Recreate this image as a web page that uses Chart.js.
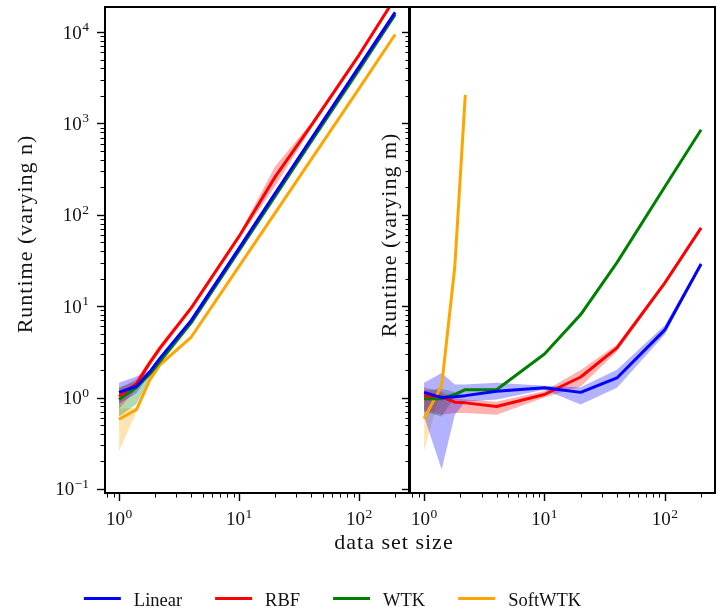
<!DOCTYPE html>
<html><head><meta charset="utf-8">
<script src="https://cdn.jsdelivr.net/npm/chart.js@4.4.1/dist/chart.umd.min.js"></script>
<style>
html,body{margin:0;padding:0;background:#fff;}
#wrap{position:relative;width:727px;height:614px;overflow:hidden;background:#fff;}
canvas{position:absolute;top:0;}
#cn{left:0;} #cm{left:360px;}
</style></head><body>
<div id="wrap"><canvas id="cn" width="727" height="614"></canvas><canvas id="cm" width="367" height="614"></canvas></div>
<script>
// ---------- data ----------
const seriesNames = ['Linear', 'RBF', 'WTK', 'SoftWTK'];
const seriesColors = ['#0000ff', '#ff0000', '#008000', '#ffa500'];
const bandColors = ['rgba(0,0,255,0.3)', 'rgba(255,0,0,0.3)', 'rgba(0,128,0,0.3)', 'rgba(255,165,0,0.3)'];

const sizes = [1, 1.4, 1.8, 2.2, 4, 10, 20, 40, 100, 200];
const sizesSoftM = [1, 1.4, 1.8, 2.2];

// varying n (left panel)
const nLinear   = [1.14, 1.33, 1.9, 2.7, 7.0, 43, 172, 680, 4150, 16400];
const nLinearLo = [0.85, 1.12, 1.8, 2.55, 6.6, 41, 165, 650, 3950, 15600];
const nLinearHi = [1.45, 1.7, 2.0, 2.85, 7.4, 45, 180, 710, 4350, 17200];
const nRbf   = [1.03, 1.42, 2.4, 3.5, 9.6, 58, 260, 950, 5600, 23600];
const nRbfLo = [0.75, 1.25, 2.2, 3.2, 9.0, 55, 205, 880, 5300, 22500];
const nRbfHi = [1.25, 1.6, 2.6, 3.8, 10.2, 61, 340, 1020, 5900, 24800];
const nWtk   = [0.95, 1.30, 1.8, 2.5, 6.6, 40.5, 160, 634, 3910, 15500];
const nWtkLo = [0.62, 0.85, 1.6, 2.35, 6.2, 38.5, 152, 600, 3500, 14800];
const nWtkHi = [1.3, 1.5, 2.0, 2.65, 7.0, 42.5, 168, 670, 4300, 16200];
const nSoft   = [0.58, 0.74, 1.55, 2.3, 4.6, 27.3, 105, 405, 2400, 9400];
const nSoftLo = [0.26, 0.70, 1.45, 2.2, 4.4, 26.3, 101, 390, 2320, 9100];
const nSoftHi = [0.75, 0.78, 1.65, 2.4, 4.8, 28.3, 109, 420, 2480, 9700];

// varying m (right panel)
const mLinear   = [1.14, 1.0, 1.02, 1.05, 1.17, 1.28, 1.14, 1.64, 5.5, 29];
const mLinearLo = [0.62, 0.163, 0.65, 0.9, 0.95, 1.22, 0.84, 1.28, 4.9, 28];
const mLinearHi = [1.45, 1.86, 1.39, 1.39, 1.45, 1.35, 1.3, 2.02, 6.2, 30.5];
const mRbf   = [1.05, 1.02, 0.89, 0.875, 0.80, 1.08, 1.68, 3.5, 18, 72];
const mRbfLo = [0.72, 0.65, 0.68, 0.68, 0.65, 1.0, 1.32, 3.2, 17, 70];
const mRbfHi = [1.3, 1.15, 0.98, 0.95, 0.9, 1.18, 2.0, 3.8, 19, 74];
const mWtk   = [0.97, 0.97, 1.08, 1.22, 1.22, 3.0, 8.1, 30, 203, 854];
const mWtkLo = [0.7, 0.62, 1.02, 1.18, 1.18, 2.9, 7.6, 29, 198, 835];
const mWtkHi = [1.2, 1.25, 1.14, 1.26, 1.26, 3.1, 8.6, 31, 208, 875];
const mSoft   = [0.59, 1.35, 27, 2050];
const mSoftLo = [0.26, 1.3, 26, 2000];
const mSoftHi = [0.9, 1.4, 28, 2100];

// tick labels
const xTickValues = [1, 10, 100];
const xTickExps = ['0', '1', '2'];
const yTickValues = [0.1, 1, 10, 100, 1000, 10000];
const yTickExps = ['\u22121', '0', '1', '2', '3', '4'];

const xLabel = 'data set size';
const yLabelN = 'Runtime (varying n)';
const yLabelM = 'Runtime (varying m)';

// ---------- helpers ----------
const FONT = "'Liberation Serif', 'Times New Roman', serif";
const X_MIN = 0.764, X_MAX = 261, Y_MIN = 0.0903, Y_MAX = 18800;

function pts(xs, ys) { return ys.map((v, i) => ({x: xs[i], y: v})); }

function buildDatasets(groups) {
  const bands = [], lines = [];
  groups.forEach((g, i) => {
    bands.push({data: pts(g.x, g.hi), fill: '+1', backgroundColor: bandColors[i], borderWidth: 0, pointRadius: 0, borderColor: 'rgba(0,0,0,0)'});
    bands.push({data: pts(g.x, g.lo), fill: false, borderWidth: 0, pointRadius: 0, borderColor: 'rgba(0,0,0,0)'});
    lines.push({label: seriesNames[i], data: pts(g.x, g.y), borderColor: seriesColors[i], backgroundColor: seriesColors[i],
      borderWidth: 3, pointRadius: 0, fill: false, tension: 0, borderJoinStyle: 'round', borderCapStyle: 'butt'});
  });
  return bands.concat(lines);
}

function drawPow(ctx, x, y, exp, align) {
  ctx.font = '19px ' + FONT;
  const wb = ctx.measureText('10').width;
  ctx.font = '13.5px ' + FONT;
  const we = ctx.measureText(exp).width;
  const total = wb + we + 0.5;
  let x0 = align === 'center' ? x - total / 2 : x - total;
  ctx.textAlign = 'left';
  ctx.textBaseline = 'alphabetic';
  ctx.font = '19px ' + FONT;
  ctx.fillText('10', x0, y);
  ctx.font = '13.5px ' + FONT;
  ctx.fillText(exp, x0 + wb + 0.5, y - 7.5);
}

const mplPlugin = {
  id: 'mpl',
  afterDraw(chart, args, o) {
    const ctx = chart.ctx, a = chart.chartArea;
    const xs = chart.scales.x, ys = chart.scales.y;
    ctx.save();
    ctx.strokeStyle = '#000';
    ctx.fillStyle = '#111';
    const ticks = (scale, horiz) => {
      const lo = Math.floor(Math.log10(scale.min)), hi = Math.ceil(Math.log10(scale.max));
      for (let e = lo; e <= hi; e++) for (let k = 1; k <= 9; k++) {
        const v = k * Math.pow(10, e);
        if (v < scale.min * 0.9999 || v > scale.max * 1.0001) continue;
        const p = Math.round(scale.getPixelForValue(v)) + 0.5;
        const len = k === 1 ? 8 : 4.5;
        ctx.lineWidth = k === 1 ? 1.4 : 1.0;
        ctx.beginPath();
        if (horiz) { ctx.moveTo(p, a.bottom); ctx.lineTo(p, a.bottom + len); }
        else { ctx.moveTo(a.left, p); ctx.lineTo(a.left - len, p); }
        ctx.stroke();
      }
    };
    ticks(xs, true);
    ticks(ys, false);
    // spines
    ctx.lineWidth = 2;
    ctx.strokeRect(a.left, a.top, a.right - a.left, a.bottom - a.top);
    // tick labels
    xTickValues.forEach((v, i) => drawPow(ctx, xs.getPixelForValue(v), a.bottom + 32, xTickExps[i], 'center'));
    if (o.yLabels) {
      yTickValues.forEach((v, i) => drawPow(ctx, a.left - 16, ys.getPixelForValue(v) + 6.5, yTickExps[i], 'right'));
    }
    // y title
    ctx.font = '22px ' + FONT;
    try { ctx.letterSpacing = '1px'; } catch (e) {}
    ctx.save();
    ctx.translate(o.yTitleX, o.yTitleY);
    ctx.rotate(-Math.PI / 2);
    ctx.textAlign = 'center';
    ctx.textBaseline = 'alphabetic';
    ctx.fillText(o.yTitle, 0, 0);
    ctx.restore();
    if (o.xTitle) {
      ctx.textAlign = 'center';
      ctx.textBaseline = 'alphabetic';
      ctx.fillText(o.xTitle, o.xTitleX, o.xTitleY);
    }
    try { ctx.letterSpacing = '0px'; } catch (e) {}
    if (o.legend) {
      ctx.font = '18.5px ' + FONT;
      const lineW = 37, gap = 13, spacing = 33;
      const widths = seriesNames.map(n => lineW + gap + ctx.measureText(n).width);
      const total = widths.reduce((s, w) => s + w, 0) + spacing * (widths.length - 1);
      let x = o.legendCX - total / 2;
      seriesNames.forEach((n, i) => {
        ctx.strokeStyle = seriesColors[i];
        ctx.lineWidth = 3;
        ctx.beginPath();
        ctx.moveTo(x, o.legendY);
        ctx.lineTo(x + lineW, o.legendY);
        ctx.stroke();
        ctx.textAlign = 'left';
        ctx.fillText(n, x + lineW + gap, o.legendY + 7);
        x += widths[i] + spacing;
      });
    }
    ctx.restore();
  }
};

function makeChart(id, groups, padRight, yWidth, mpl) {
  return new Chart(document.getElementById(id), {
    type: 'line',
    data: {datasets: buildDatasets(groups)},
    options: {
      responsive: false, animation: false, events: [],
      layout: {padding: {left: 0, right: padRight, top: 7, bottom: 0}},
      scales: {
        x: {type: 'logarithmic', min: X_MIN, max: X_MAX,
            grid: {display: false, drawTicks: false}, border: {display: false},
            ticks: {display: false}, afterFit(s) { s.height = 121; }},
        y: {type: 'logarithmic', min: Y_MIN, max: Y_MAX,
            grid: {display: false, drawTicks: false}, border: {display: false},
            ticks: {display: false}, afterFit(s) { s.width = yWidth; }}
      },
      plugins: {legend: {display: false}, tooltip: {enabled: false},
        filler: {drawTime: 'beforeDatasetsDraw'}, mpl: mpl}
    },
    plugins: [mplPlugin]
  });
}

makeChart('cn', [
  {x: sizes, y: nLinear, lo: nLinearLo, hi: nLinearHi},
  {x: sizes, y: nRbf, lo: nRbfLo, hi: nRbfHi},
  {x: sizes, y: nWtk, lo: nWtkLo, hi: nWtkHi},
  {x: sizes, y: nSoft, lo: nSoftLo, hi: nSoftHi}
], 318, 105, {yLabels: true, yTitle: yLabelN, yTitleX: 32, yTitleY: 234,
  xTitle: xLabel, xTitleX: 394, xTitleY: 549, legend: true, legendCX: 332.5, legendY: 598.5});

makeChart('cm', [
  {x: sizes, y: mLinear, lo: mLinearLo, hi: mLinearHi},
  {x: sizes, y: mRbf, lo: mRbfLo, hi: mRbfHi},
  {x: sizes, y: mWtk, lo: mWtkLo, hi: mWtkHi},
  {x: sizesSoftM, y: mSoft, lo: mSoftLo, hi: mSoftHi}
], 12, 50, {yLabels: false, yTitle: yLabelM, yTitleX: 36, yTitleY: 235});
</script>
</body></html>
